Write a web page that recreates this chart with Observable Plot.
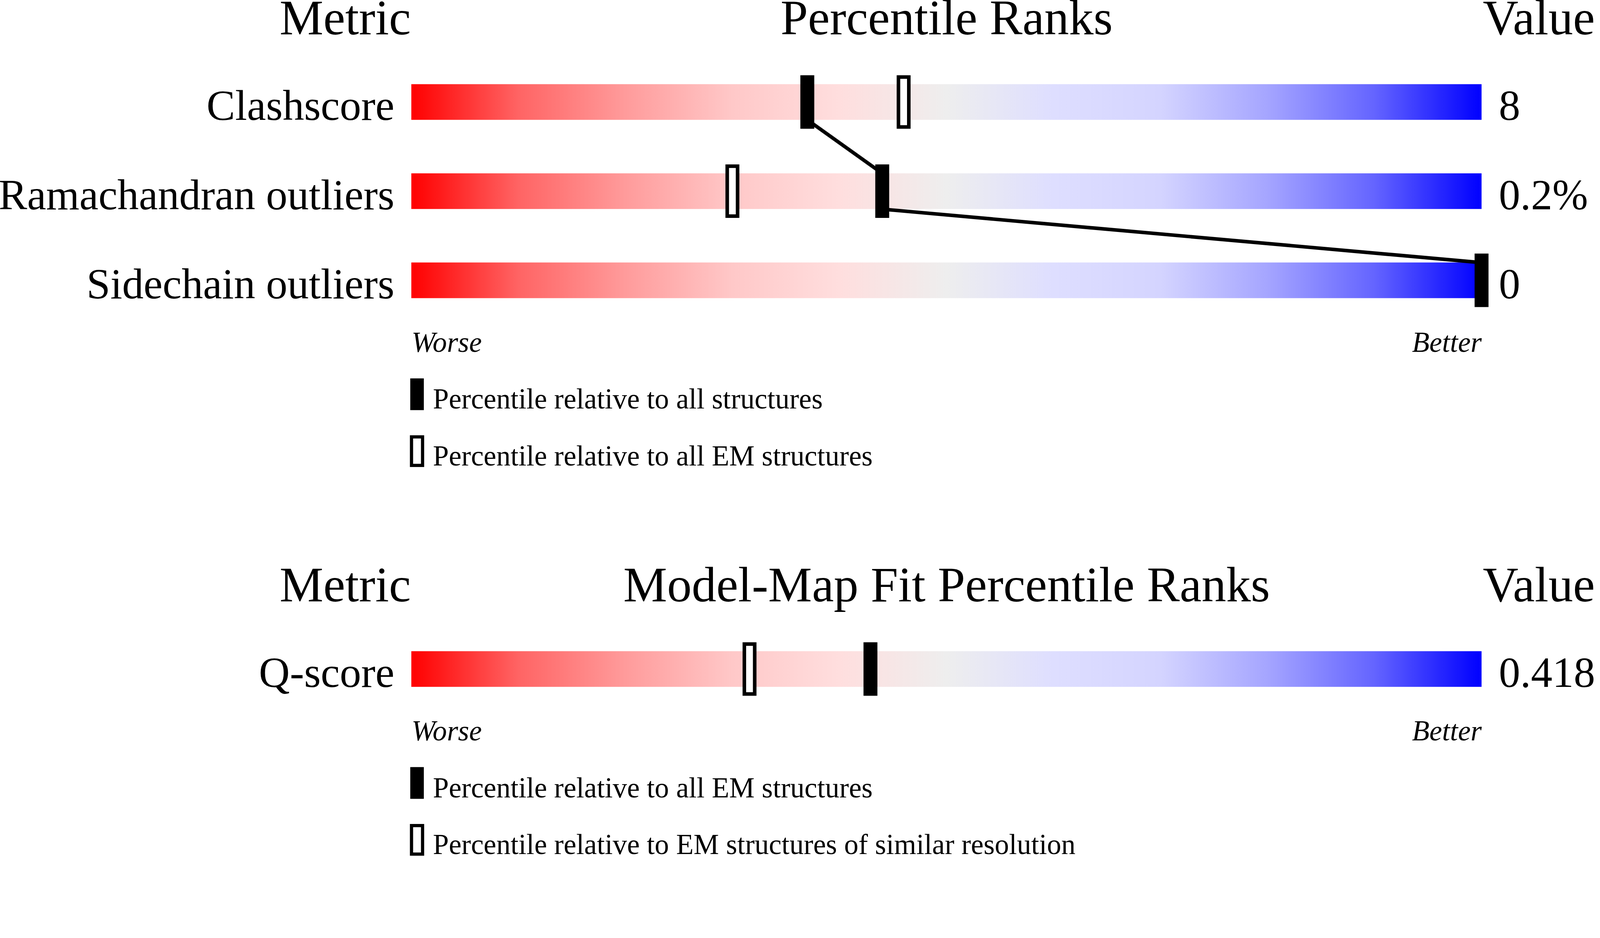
<!DOCTYPE html>
<html>
<head>
<meta charset="utf-8">
<script src="https://cdn.jsdelivr.net/npm/d3@7"></script>
<script src="https://cdn.jsdelivr.net/npm/@observablehq/plot@0.6"></script>
<style>
  html, body { margin: 0; padding: 0; background: #fff; }
  #chart svg { display: block; overflow: visible; }
</style>
</head>
<body>
<div id="chart"></div>
<script>
// ---------------- data ----------------
const headerLeft = "Metric";
const headerRight = "Value";
const axisEnds = ["Worse", "Better"];

const topTitle = "Percentile Ranks";
const topMetrics = ["Clashscore", "Ramachandran outliers", "Sidechain outliers"];
const topValues = ["8", "0.2%", "0"];
const topPctAll = [37, 44, 100];      // filled marker: relative to all structures
const topPctEM = [46, 30, null];      // hollow marker: relative to all EM structures
const topLegend = ["Percentile relative to all structures", "Percentile relative to all EM structures"];

const botTitle = "Model-Map Fit Percentile Ranks";
const botMetrics = ["Q-score"];
const botValues = ["0.418"];
const botPctAll = [42.9];             // filled marker: relative to all EM structures
const botPctSim = [31.6];             // hollow marker: EM structures of similar resolution
const botLegend = ["Percentile relative to all EM structures", "Percentile relative to EM structures of similar resolution"];

// ---------------- style ----------------
const W = 4485;
const FONT = "'Liberation Serif', 'Times New Roman', serif";
const H = 0.2; // half bar height in row units
const gradStops = [
  [0, "rgb(255,0,0)"], [0.1, "rgb(255,100,100)"], [0.2, "rgb(255,155,155)"],
  [0.3, "rgb(255,200,200)"], [0.4, "rgb(255,222,222)"], [0.5, "rgb(238,238,238)"],
  [0.6, "rgb(222,222,255)"], [0.7, "rgb(212,212,255)"], [0.8, "rgb(165,165,255)"],
  [0.9, "rgb(100,100,255)"], [1, "rgb(0,0,255)"]
];

function section({id, title, metrics, values, filled, hollow, legend, height}) {
  const rows = metrics.map((m, i) => ({metric: m, value: values[i], row: i, filled: filled[i], hollow: hollow[i]}));
  const last = rows.length - 1;
  const links = d3.pairs(rows).map(([a, b]) => ({x1: a.filled, y1: a.row + H, x2: b.filled, y2: b.row - H}));
  const defs = () => {
    const ns = "http://www.w3.org/2000/svg";
    const d = document.createElementNS(ns, "defs");
    const g = document.createElementNS(ns, "linearGradient");
    g.setAttribute("id", id);
    g.setAttribute("x1", "0"); g.setAttribute("x2", "1"); g.setAttribute("y1", "0"); g.setAttribute("y2", "0");
    for (const [o, c] of gradStops) {
      const s = document.createElementNS(ns, "stop");
      s.setAttribute("offset", o);
      s.setAttribute("stop-color", c);
      g.appendChild(s);
    }
    d.appendChild(g);
    return d;
  };
  const txt = {fontFamily: FONT, lineAnchor: "bottom", fill: "black"};
  return Plot.plot({
    width: W,
    height,
    style: {fontFamily: FONT, background: "white", overflow: "visible"},
    x: {domain: [0, 100], range: [1153, 4153], axis: null},
    y: {domain: [0, 1], range: [286, 536], axis: null},
    marks: [
      defs,
      // gradient bars
      Plot.rect(rows, {x1: 0, x2: 100, y1: d => d.row - H, y2: d => d.row + H, fill: `url(#${id})`}),
      // connecting line between filled markers
      Plot.link(links, {x1: "x1", y1: "y1", x2: "x2", y2: "y2", stroke: "black", strokeWidth: 10}),
      // hollow markers
      Plot.rect(rows.filter(d => d.hollow != null), {
        x1: "hollow", x2: "hollow", y1: "row", y2: "row",
        insetLeft: -14.5, insetRight: -14.5, insetTop: -70, insetBottom: -70,
        fill: "white", stroke: "black", strokeWidth: 10
      }),
      // filled markers
      Plot.rect(rows.filter(d => d.filled != null), {
        x1: "filled", x2: "filled", y1: "row", y2: "row",
        insetLeft: -19.5, insetRight: -19.5, insetTop: -75, insetBottom: -75,
        fill: "black"
      }),
      // headers
      Plot.text([headerLeft], {...txt, x: 0, y: 0, text: d => d, textAnchor: "end", dx: -2, dy: -190, fontSize: 138}),
      Plot.text([title], {...txt, x: 50, y: 0, text: d => d, textAnchor: "middle", dy: -190, fontSize: 138}),
      Plot.text([headerRight], {...txt, x: 100, y: 0, text: d => d, textAnchor: "start", dx: 3, dy: -190, fontSize: 138}),
      // metric labels and values
      Plot.text(rows, {...txt, x: 0, y: "row", text: "metric", textAnchor: "end", dx: -48, dy: 50, fontSize: 120}),
      Plot.text(rows, {...txt, x: 100, y: "row", text: "value", textAnchor: "start", dx: 48, dy: 50, fontSize: 120}),
      // worse / better
      Plot.text([axisEnds[0]], {...txt, x: 0, y: last, text: d => d, textAnchor: "start", dy: 200, fontSize: 80, fontStyle: "italic"}),
      Plot.text([axisEnds[1]], {...txt, x: 100, y: last, text: d => d, textAnchor: "end", dy: 200, fontSize: 80, fontStyle: "italic"}),
      // legend
      Plot.rect([legend[0]], {x1: 0, x2: 0, y1: last, y2: last, dx: 16, dy: 319.5,
        insetLeft: -19, insetRight: -19, insetTop: -44.5, insetBottom: -44.5, fill: "black"}),
      Plot.rect([legend[1]], {x1: 0, x2: 0, y1: last, y2: last, dx: 16, dy: 479,
        insetLeft: -15.5, insetRight: -15.5, insetTop: -40, insetBottom: -40, fill: "white", stroke: "black", strokeWidth: 9}),
      Plot.text([legend[0]], {...txt, x: 0, y: last, text: d => d, textAnchor: "start", dx: 60, dy: 359, fontSize: 80}),
      Plot.text([legend[1]], {...txt, x: 0, y: last, text: d => d, textAnchor: "start", dx: 60, dy: 518.5, fontSize: 80})
    ]
  });
}

const chart = document.getElementById("chart");
chart.append(
  section({id: "gradTop", title: topTitle, metrics: topMetrics, values: topValues, filled: topPctAll, hollow: topPctEM, legend: topLegend, height: 1590}),
  section({id: "gradBot", title: botTitle, metrics: botMetrics, values: botValues, filled: botPctAll, hollow: botPctSim, legend: botLegend, height: 812})
);
</script>
</body>
</html>
